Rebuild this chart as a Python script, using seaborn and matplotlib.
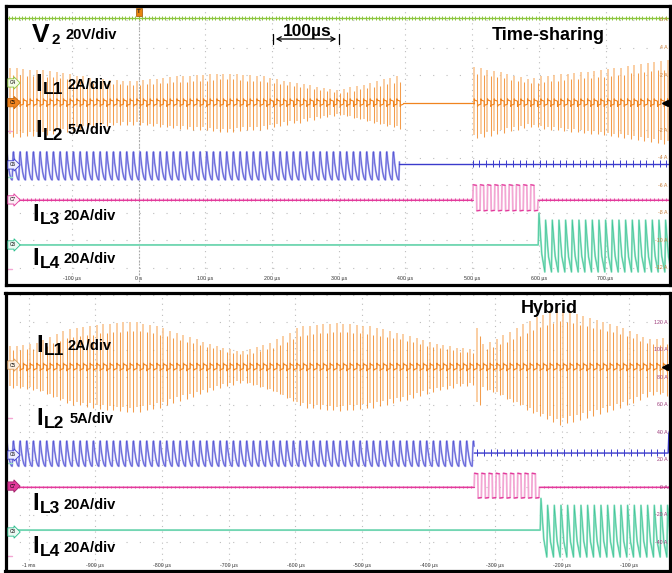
import numpy as np
import pandas as pd
import matplotlib
matplotlib.use("Agg")
import matplotlib.pyplot as plt
import matplotlib.transforms as mtransforms
import seaborn as sns

sns.set_theme(style="white")
plt.rcParams["font.family"] = ["Liberation Sans", "DejaVu Sans"]

# ------------------------------------------------------------------
# Channel sensitivities (A per vertical division)
IL1_SCALE = 2
IL2_SCALE = 5
IL3_SCALE = 20
IL4_SCALE = 20
PERIOD_US = 10          # switching period
IL3_PERIOD_US = 10.8    # period of the IL3 square wave

# ---- Time-sharing record (µs, A) ----
TS_IL1_BURST1_START = -193
TS_IL1_BURST1_PEAK = [2.5, 2.5, 2.45, 2.4, 2.4, 2.35, 2.3, 2.2, 2.15, 2.05,
                      1.95, 1.9, 1.8, 1.7, 1.7, 1.65, 1.65, 1.6, 1.6, 1.6,
                      1.65, 1.7, 1.75, 1.8, 1.85, 1.9, 1.9, 1.95, 2.0, 2.0,
                      2.05, 2.1, 2.1, 2.1, 2.05, 2.0, 2.0, 1.95, 1.9, 1.8,
                      1.7, 1.6, 1.5, 1.45, 1.35, 1.25, 1.15, 1.05, 1.0, 0.9,
                      1.0, 1.1, 1.2, 1.3, 1.45, 1.55, 1.7, 1.8, 1.9]
TS_IL1_BURST2_START = 503
TS_IL1_BURST2_PEAK = [2.6, 2.5, 2.4, 2.3, 2.2, 2.05, 1.95, 1.85, 1.75, 1.8,
                      1.9, 1.95, 2.0, 2.05, 2.1, 2.15, 2.2, 2.25, 2.3, 2.35,
                      2.45, 2.5, 2.55, 2.65, 2.7, 2.8, 2.85, 2.95, 3.0, 3.1]
TS_IL2_WINDOW = [-200, 391]
TS_IL2_RIPPLE = [2.2, -2.9]
TS_IL3_WINDOW = [501, 599]
TS_IL3_LEVELS = [10.9, -8.0]
TS_IL4_WINDOW = [599, 796]
TS_IL4_LEVELS = [18.0, -19.6]
TS_IL4_FIRST_PEAK = 23.0

# ---- Hybrid record (µs, A) ----
HY_IL1_START = -1028
HY_IL1_PEAK = [1.5, 1.55, 1.6, 1.65, 1.75, 1.95, 2.2, 2.4, 2.6, 2.75,
               2.8, 2.9, 2.95, 3.05, 3.1, 3.15, 3.2, 3.25, 3.3, 3.25,
               3.15, 3.05, 2.95, 2.8, 2.6, 2.45, 2.3, 2.15, 2.0, 1.85,
               1.7, 1.55, 1.4, 1.3, 1.15, 1.15, 1.3, 1.45, 1.6, 1.75,
               2.0, 2.25, 2.5, 2.8, 2.95, 3.0, 3.05, 3.1, 3.15, 3.2,
               3.15, 3.1, 3.05, 3.0, 2.95, 2.85, 2.75, 2.6, 2.5, 2.4,
               2.25, 2.1, 1.95, 1.8, 1.7, 1.6, 1.5, 1.4, 1.35, 1.3,
               2.8, 1.65, 1.85, 2.05, 2.3, 2.55, 2.8, 3.1, 3.35, 3.6,
               3.8, 4.0, 4.2, 4.1, 4.0, 3.85, 3.7, 3.55, 3.45, 3.3,
               3.15, 3.0, 2.8, 2.6, 2.4, 2.2, 2.05, 2.0, 2.1]
HY_IL2_WINDOW = [-1035, -332]
HY_IL2_RIPPLE = [2.2, -2.4]
HY_IL3_WINDOW = [-332, -233]
HY_IL3_LEVELS = [10.0, -8.0]
HY_IL4_WINDOW = [-233, -39]
HY_IL4_LEVELS = [18.0, -19.6]
HY_IL4_FIRST_PEAK = 23.0

TOP_TIME_TICKS = [-100, 0, 100, 200, 300, 400, 500, 600, 700]
TOP_TIME_LABELS = ["-100 µs", "0 s", "100 µs", "200 µs", "300 µs", "400 µs",
                   "500 µs", "600 µs", "700 µs"]
TOP_AMP_TICKS = [6, 4, 2, -2, -4, -6, -8, -10, -12]
BOT_TIME_TICKS = [-1000, -900, -800, -700, -600, -500, -400, -300, -200, -100]
BOT_TIME_LABELS = ["-1 ms", "-900 µs", "-800 µs", "-700 µs", "-600 µs", "-500 µs",
                   "-400 µs", "-300 µs", "-200 µs", "-100 µs"]
BOT_AMP_TICKS = [120, 100, 80, 60, 40, 20, 0, -20, -40]

# ------------------------------------------------------------------
ORANGE, ORANGE_L = "#f0841f", "#f9c18a"
BLUE, BLUE_L = "#3b3bcc", "#a6a6ec"
PINK, PINK_L = "#e23a9b", "#f3a6d3"
TEAL, TEAL_L = "#25bd8a", "#97e2c6"
GREEN = "#8cc63f"
GRID = "#bdbdbd"

W, H = 672, 573
fig = plt.figure(figsize=(W / 100, H / 100), dpi=100)
fig.patch.set_facecolor("white")


def px_axes(x0, y0, x1, y1):
    return fig.add_axes([x0 / W, 1 - y1 / H, (x1 - x0) / W, (y1 - y0) / H])


def ftext(x, y, s, size, **kw):
    fig.text(x / W, 1 - y / H, s, fontsize=size, fontweight="bold",
             ha="left", va="baseline", color="black", **kw)


def trace(ax, t, y, color, lw, z=3, alpha=1.0):
    df = pd.DataFrame({"t": np.asarray(t, float), "y": np.asarray(y, float)})
    sns.lineplot(data=df, x="t", y="y", ax=ax, color=color, linewidth=lw,
                 sort=False, estimator=None, errorbar=None, zorder=z,
                 legend=False, alpha=alpha)


def slow_segments(ax, t, y, color, lw, px_per_t, px_per_y, max_slope=2.5, z=4):
    """Overdraw only the slowly varying parts of a trace in the strong colour."""
    t = np.asarray(t, float)
    y = np.asarray(y, float)
    dt = np.diff(t) * px_per_t
    dy = np.diff(y) * px_per_y
    slow = np.abs(dy) <= max_slope * np.maximum(dt, 1e-9)
    idx = np.where(slow)[0]
    df = pd.DataFrame({
        "t": np.concatenate([t[idx], t[idx + 1]]),
        "y": np.concatenate([y[idx], y[idx + 1]]),
        "seg": np.concatenate([idx, idx]),
        "order": np.concatenate([np.zeros(len(idx)), np.ones(len(idx))]),
    }).sort_values(["seg", "order"])
    sns.lineplot(data=df, x="t", y="y", units="seg", ax=ax, color=color,
                 linewidth=lw, sort=False, estimator=None, errorbar=None,
                 zorder=z, legend=False)


def ripple_wave(t0, t1, period, hi, lo, rise_frac, n=10):
    u = np.linspace(0, 1, n)
    ts, ys = [], []
    for c in np.arange(t0, t1, period):
        ts.append(c + rise_frac * period * u)
        ys.append(lo + (hi - lo) * np.sin(np.pi / 2 * u))
        ts.append(c + rise_frac * period + (1 - rise_frac) * period * u[1:])
        ys.append(hi - (hi - lo) * (1 - (1 - u[1:]) ** 2))
    t = np.concatenate(ts)
    y = np.concatenate(ys)
    keep = t <= t1
    return t[keep], y[keep]


def square_wave(t0, t1, period, hi, lo, edge=0.6):
    ts, ys = [t0], [0.0]
    for c in np.arange(t0, t1 - period / 2, period):
        ts += [c + edge, c + period / 2, c + period / 2 + edge, c + period]
        ys += [hi, hi * 0.96, lo, lo * 0.96]
    ts += [ts[-1] + edge]
    ys += [0.0]
    return np.array(ts), np.array(ys)


def sawtooth_wave(t0, t1, period, hi, lo, first, rise_frac=0.12):
    ts, ys = [t0], [0.0]
    for i, c in enumerate(np.arange(t0, t1, period)):
        top = first if i == 0 else hi
        ts += [c + rise_frac * period, c + 0.55 * period, c + period]
        ys += [top, lo + 0.3 * (top - lo), lo]
    t = np.array(ts)
    y = np.array(ys)
    keep = t <= t1 + period
    return t[keep], y[keep]


def draw_il1(ax, start, peaks, g, off):
    p = np.asarray(peaks, float)
    t = start + PERIOD_US * np.arange(len(p))
    ax.vlines(t, off - 0.9 * p * g, off + p * g, colors=ORANGE_L, lw=1.1, zorder=2)
    ax.vlines(t + PERIOD_US / 2, off - p * g, off + 0.8 * p * g, colors=ORANGE,
              lw=0.75, zorder=3, alpha=0.8)
    # small hooks around the centre line
    a = 0.28
    ct, cy = [], []
    for tk in t:
        ct += [tk, tk, tk + 1, tk + 4.5, tk + 5, tk + 5, tk + 6, tk + 9.5]
        cy += [-0.1, a, 0.18, 0.12, 0.1, -a, -0.18, -0.12]
    trace(ax, ct, off + np.array(cy) * g, ORANGE, 0.8, z=4)
    return t


def setup(ax, xlim, ylim, grid_x, grid_y):
    ax.set_xlim(*xlim)
    ax.set_ylim(*ylim)
    ax.set_facecolor("white")
    for v in grid_x:
        ax.axvline(v, color=GRID, lw=0.8, ls=(0, (1, 4)), zorder=0)
    for h in grid_y:
        ax.axhline(h, color=GRID, lw=0.8, ls=(0, (1, 11)), zorder=0)
    for s in ax.spines.values():
        s.set_visible(True)
        s.set_color("black")
        s.set_linewidth(2.3)
        s.set_zorder(10)
    ax.set_xticks([])
    ax.set_yticks([])
    ax.set_xlabel("")
    ax.set_ylabel("")


def flag(ax, y, label, edge, fill, txt="black"):
    tr = mtransforms.blended_transform_factory(ax.transAxes, ax.transData)
    ax.text(0.006, y, label, transform=tr, fontsize=3.4, ha="left", va="center",
            color=txt, zorder=12,
            bbox=dict(boxstyle="rarrow,pad=0.35", fc=fill, ec=edge, lw=0.6))


def ref_mark(ax, xlim, y, color):
    ax.plot([xlim[0], xlim[0] + 10], [y, y], color=color, lw=1.0, zorder=5)


def right_labels(ax, ticks, color):
    tr = mtransforms.blended_transform_factory(ax.transAxes, ax.transData)
    for v in ticks:
        ax.text(0.997, v, f"{v} A", transform=tr, fontsize=3.8, ha="right",
                va="center", color=color, zorder=6)


def time_labels(ax, ticks, labels, yfrac):
    tr = mtransforms.blended_transform_factory(ax.transData, ax.transAxes)
    for v, s in zip(ticks, labels):
        ax.text(v, yfrac, s, transform=tr, fontsize=3.8, ha="center",
                va="center", color="#333333", zorder=6)


def ripple_channel(ax, t, y, light, dark):
    trace(ax, t, y, light, 1.4, z=3)
    trace(ax, t, y, dark, 0.5, z=4, alpha=0.75)


def edge_channel(ax, t, y, light, dark, pxt, pxy, lw_dark=0.8):
    trace(ax, t, y, light, 1.3, z=3)
    slow_segments(ax, t, y, dark, lw_dark, pxt, pxy)


# ======================= Time-sharing panel =======================
ax = px_axes(5.5, 5.5, 669.5, 284.5)
xl = (-200, 796)
yl = (-13.2, 7.05)
setup(ax, xl, yl, TOP_TIME_TICKS, TOP_AMP_TICKS)
ax.axvline(0, color="#a8a8a8", lw=0.8, ls=(0, (1.5, 1.5)), zorder=0)
pxt = 664 / (xl[1] - xl[0])
pxy = 279 / (yl[1] - yl[0])
div = 2.0
OFF = dict(V2=6.15, IL1=0.0, IL2=-4.45, IL3=-7.05, IL4=-10.33)

# V2
trace(ax, [xl[0], xl[1]], [OFF["V2"]] * 2, GREEN, 1.0)
tt = np.arange(xl[0], xl[1], 5)
ax.vlines(tt, OFF["V2"] - 0.12, OFF["V2"] + 0.12, colors=GREEN, lw=0.7, zorder=3)

# IL1
g1 = div / IL1_SCALE
t_a = draw_il1(ax, TS_IL1_BURST1_START, TS_IL1_BURST1_PEAK, g1, OFF["IL1"])
t_b = draw_il1(ax, TS_IL1_BURST2_START, TS_IL1_BURST2_PEAK, g1, OFF["IL1"])
trace(ax, [t_a[-1] + PERIOD_US, t_b[0]], [OFF["IL1"]] * 2, ORANGE, 0.9)

# IL2
g2 = div / IL2_SCALE
t, y = ripple_wave(TS_IL2_WINDOW[0], TS_IL2_WINDOW[1], PERIOD_US,
                   TS_IL2_RIPPLE[0], TS_IL2_RIPPLE[1], 0.2)
ripple_channel(ax, t, OFF["IL2"] + y * g2, BLUE_L, BLUE)
trace(ax, [TS_IL2_WINDOW[1], xl[1]], [OFF["IL2"]] * 2, BLUE, 1.0)
tt = np.arange(TS_IL3_WINDOW[0], xl[1], PERIOD_US)
ax.vlines(tt, OFF["IL2"] - 0.2, OFF["IL2"] + 0.28, colors=BLUE, lw=0.7, zorder=3)

# IL3
g3 = div / IL3_SCALE
t, y = square_wave(TS_IL3_WINDOW[0], TS_IL3_WINDOW[1], IL3_PERIOD_US,
                   TS_IL3_LEVELS[0], TS_IL3_LEVELS[1])
t = np.concatenate([[xl[0]], t, [xl[1]]])
y = np.concatenate([[0], y, [0]])
edge_channel(ax, t, OFF["IL3"] + y * g3, PINK_L, PINK, pxt, pxy)
for a0, a1 in [(xl[0], TS_IL3_WINDOW[0]), (TS_IL3_WINDOW[1] + 3, xl[1])]:
    tt = np.arange(a0 + 3, a1, 6)
    ax.vlines(tt, OFF["IL3"] - 0.12, OFF["IL3"] + 0.12, colors=PINK, lw=0.6, zorder=3)

# IL4
g4 = div / IL4_SCALE
t, y = sawtooth_wave(TS_IL4_WINDOW[0], TS_IL4_WINDOW[1], PERIOD_US,
                     TS_IL4_LEVELS[0], TS_IL4_LEVELS[1], TS_IL4_FIRST_PEAK)
t = np.concatenate([[xl[0]], t])
y = np.concatenate([[0], y])
ripple_channel(ax, t, OFF["IL4"] + y * g4, TEAL_L, TEAL)

# channel flags and reference marks
flag(ax, 1.43, "C4", GREEN, "#f4fbe8")
flag(ax, 0.0, "C5", "#c86a10", ORANGE)
flag(ax, -4.52, "C6", BLUE, "#eeeeff")
flag(ax, -7.06, "C7", PINK, "#fdeef6")
flag(ax, -10.33, "C8", TEAL, "#eafaf3")
ref_mark(ax, xl, -2.06, PINK_L)
ref_mark(ax, xl, -5.4, TEAL_L)
ref_mark(ax, xl, -12.07, PINK_L)

# trigger marker and offset arrow
ax.text(0, 6.6, "T", fontsize=4.2, fontweight="bold", ha="center", va="center",
        zorder=12, bbox=dict(boxstyle="square,pad=0.25", fc="#e8840e", ec="#9a5200", lw=0.5))
ax.plot([xl[1] - 7, xl[1]], [0, 0], color="black", lw=1.0, zorder=12)
ax.plot([xl[1] - 7], [0], marker="<", ms=5, color="black", zorder=12)

right_labels(ax, TOP_AMP_TICKS, "#c97f3b")
time_labels(ax, TOP_TIME_TICKS, TOP_TIME_LABELS, 0.022)

# ========================== Hybrid panel ==========================
ax = px_axes(5.5, 293.0, 669.5, 570.5)
xl = (-1035, -39)
yl = (-60.7, 141.1)
setup(ax, xl, yl, BOT_TIME_TICKS, BOT_AMP_TICKS + [140])
pxt = 664 / (xl[1] - xl[0])
pxy = 277.5 / (yl[1] - yl[0])
div = 20.0
OFF = dict(IL1=87.3, IL2=24.7, IL3=0.0, IL4=-31.3)

g1 = div / IL1_SCALE
draw_il1(ax, HY_IL1_START, HY_IL1_PEAK, g1, OFF["IL1"])

g2 = div / IL2_SCALE
t, y = ripple_wave(HY_IL2_WINDOW[0], HY_IL2_WINDOW[1], PERIOD_US,
                   HY_IL2_RIPPLE[0], HY_IL2_RIPPLE[1], 0.2)
ripple_channel(ax, t, OFF["IL2"] + y * g2, BLUE_L, BLUE)
trace(ax, [HY_IL2_WINDOW[1], xl[1] - 2, xl[1] - 1, xl[1]],
      [OFF["IL2"], OFF["IL2"], OFF["IL2"] + 14, OFF["IL2"] + 16], BLUE, 1.0)
tt = np.arange(HY_IL2_WINDOW[1] + 5, xl[1] - 3, PERIOD_US)
ax.vlines(tt, OFF["IL2"] - 2.2, OFF["IL2"] + 3.2, colors=BLUE, lw=0.7, zorder=3)

g3 = div / IL3_SCALE
t, y = square_wave(HY_IL3_WINDOW[0], HY_IL3_WINDOW[1], IL3_PERIOD_US,
                   HY_IL3_LEVELS[0], HY_IL3_LEVELS[1])
t = np.concatenate([[xl[0]], t, [xl[1]]])
y = np.concatenate([[0], y, [0]])
edge_channel(ax, t, OFF["IL3"] + y * g3, PINK_L, PINK, pxt, pxy, lw_dark=0.9)
for a0, a1 in [(xl[0], HY_IL3_WINDOW[0]), (HY_IL3_WINDOW[1] + 3, xl[1])]:
    tt = np.arange(a0 + 3, a1, 6)
    ax.vlines(tt, OFF["IL3"] - 1.0, OFF["IL3"] + 1.0, colors=PINK, lw=0.6, zorder=3)

g4 = div / IL4_SCALE
t, y = sawtooth_wave(HY_IL4_WINDOW[0], HY_IL4_WINDOW[1], PERIOD_US,
                     HY_IL4_LEVELS[0], HY_IL4_LEVELS[1], HY_IL4_FIRST_PEAK)
t = np.concatenate([[xl[0]], t])
y = np.concatenate([[0], y])
ripple_channel(ax, t, OFF["IL4"] + y * g4, TEAL_L, TEAL)

flag(ax, 88.7, "C5", "#e0a060", "#fdf0e0")
flag(ax, 23.3, "C6", BLUE, "#eeeeff")
flag(ax, 0.7, "C7", "#a01c66", PINK)
flag(ax, -32.7, "C8", TEAL, "#eafaf3")
ref_mark(ax, xl, 50.2, PINK_L)
ref_mark(ax, xl, 17.5, TEAL_L)
ref_mark(ax, xl, -50.2, PINK_L)

ax.plot([xl[1] - 7, xl[1]], [OFF["IL1"]] * 2, color="black", lw=1.0, zorder=12)
ax.plot([xl[1] - 7], [OFF["IL1"]], marker="<", ms=5, color="black", zorder=12)

right_labels(ax, BOT_AMP_TICKS, "#9d3a7a")
time_labels(ax, BOT_TIME_TICKS, BOT_TIME_LABELS, 0.017)

# ============================ Labels ==============================
ftext(32, 42, "V", 19)
ftext(52, 44, "2", 11)
ftext(66, 39, "20V/div", 10.5)

ftext(35, 91, "I", 17)
ftext(43, 94, "L1", 12.5)
ftext(68, 89, "2A/div", 10.5)
ftext(35, 137, "I", 17)
ftext(43, 140, "L2", 12.5)
ftext(68, 134, "5A/div", 10.5)
ftext(32, 221, "I", 17)
ftext(40, 224, "L3", 12.5)
ftext(63, 220, "20A/div", 10.5)
ftext(32, 265, "I", 17)
ftext(40, 268, "L4", 12.5)
ftext(63, 263, "20A/div", 10.5)

ftext(283, 36, "100µs", 12.5)
fig.add_artist(plt.Line2D([273 / W, 273 / W], [1 - 34 / H, 1 - 44 / H], color="black", lw=0.9))
fig.add_artist(plt.Line2D([339 / W, 339 / W], [1 - 34 / H, 1 - 44 / H], color="black", lw=0.9))
fig.add_artist(matplotlib.patches.FancyArrowPatch(
    (273 / W, 1 - 39 / H), (339 / W, 1 - 39 / H), transform=fig.transFigure,
    arrowstyle="<->,head_length=3,head_width=1.6", color="black", lw=0.9))
ftext(492, 40, "Time-sharing", 13)

ftext(36, 352, "I", 17)
ftext(44, 355, "L1", 12.5)
ftext(68, 350, "2A/div", 10.5)
ftext(36, 425, "I", 17)
ftext(44, 428, "L2", 12.5)
ftext(70, 423, "5A/div", 10.5)
ftext(32, 510, "I", 17)
ftext(40, 513, "L3", 12.5)
ftext(63, 509, "20A/div", 10.5)
ftext(32, 553, "I", 17)
ftext(40, 556, "L4", 12.5)
ftext(63, 552, "20A/div", 10.5)
ftext(521, 313, "Hybrid", 13)

fig.savefig("out.png", dpi=100, facecolor="white")
